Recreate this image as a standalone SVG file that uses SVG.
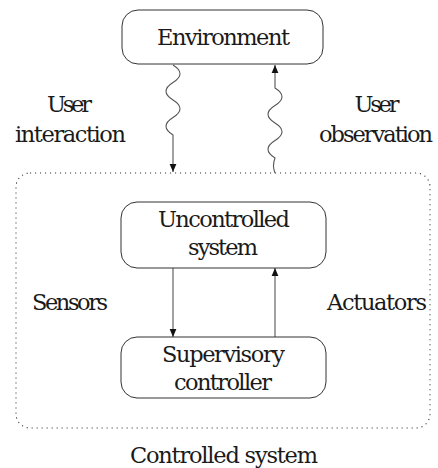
<svg xmlns="http://www.w3.org/2000/svg" width="438" height="468" viewBox="0 0 438 468">
<style>
  .box { fill: #fff; stroke: #333; stroke-width: 1; }
  .conn { fill: none; stroke: #555; stroke-width: 1.1; }
  .dot { fill: none; stroke: #333; stroke-width: 1.1; stroke-dasharray: 1.1 3.9; }
</style>
<defs>
  <marker id="ah" viewBox="0 0 10 10" refX="10" refY="5" markerWidth="8" markerHeight="8" markerUnits="userSpaceOnUse" orient="auto">
    <path d="M0,0.8 L10,5 L0,9.2 Z" fill="#111"/>
  </marker>
</defs>
<rect width="438" height="468" fill="#fff"/>

<g font-size="22.5" fill="#1a1a1a" text-anchor="middle">
<g id="controlled-system" font-family="DejaVu Serif">
  <rect class="dot" x="16" y="173" width="414" height="255" rx="14"/>
  <text x="224" y="463" textLength="188" lengthAdjust="spacing">Controlled system</text>
</g>

<g id="connectors">
  <path class="conn" marker-end="url(#ah)" d="M173,65 Q187,73.75 173,82.5 T173,100 T173,117.5 T173,135 L173,172"/>
  <path class="conn" marker-end="url(#ah)" d="M275,173 Q272,166 275,158 Q261,149.25 275,140.5 T275,123 T275,105.5 T275,88 L275,65"/>
  <path class="conn" marker-end="url(#ah)" d="M173,268 L173,337"/>
  <path class="conn" marker-end="url(#ah)" d="M275,337 L275,268"/>
</g>

<g id="environment" font-family="DejaVu Serif">
  <rect class="box" x="122" y="10" width="201" height="54" rx="16"/>
  <text x="223.5" y="45" textLength="133" lengthAdjust="spacing">Environment</text>
</g>

<g id="uncontrolled-system" font-family="DejaVu Serif">
  <rect class="box" x="121" y="202" width="205" height="66" rx="16"/>
  <text x="224" y="227" textLength="132" lengthAdjust="spacing">Uncontrolled</text>
  <text x="223" y="255" textLength="70" lengthAdjust="spacing">system</text>
</g>

<g id="supervisory-controller" font-family="DejaVu Serif">
  <rect class="box" x="121" y="337" width="205" height="61" rx="16"/>
  <text x="223.5" y="362" textLength="123" lengthAdjust="spacing">Supervisory</text>
  <text x="223" y="390" textLength="98" lengthAdjust="spacing">controller</text>
</g>

<g id="labels" font-family="DejaVu Serif">
  <text x="69.5" y="112" textLength="45" lengthAdjust="spacing">User</text>
  <text x="70.5" y="142" textLength="111" lengthAdjust="spacing">interaction</text>
  <text x="377" y="112" textLength="45" lengthAdjust="spacing">User</text>
  <text x="376" y="142" textLength="114" lengthAdjust="spacing">observation</text>
  <text x="70" y="310" textLength="76" lengthAdjust="spacing">Sensors</text>
  <text x="377" y="310" textLength="100" lengthAdjust="spacing">Actuators</text>
</g>
</g>
</svg>
